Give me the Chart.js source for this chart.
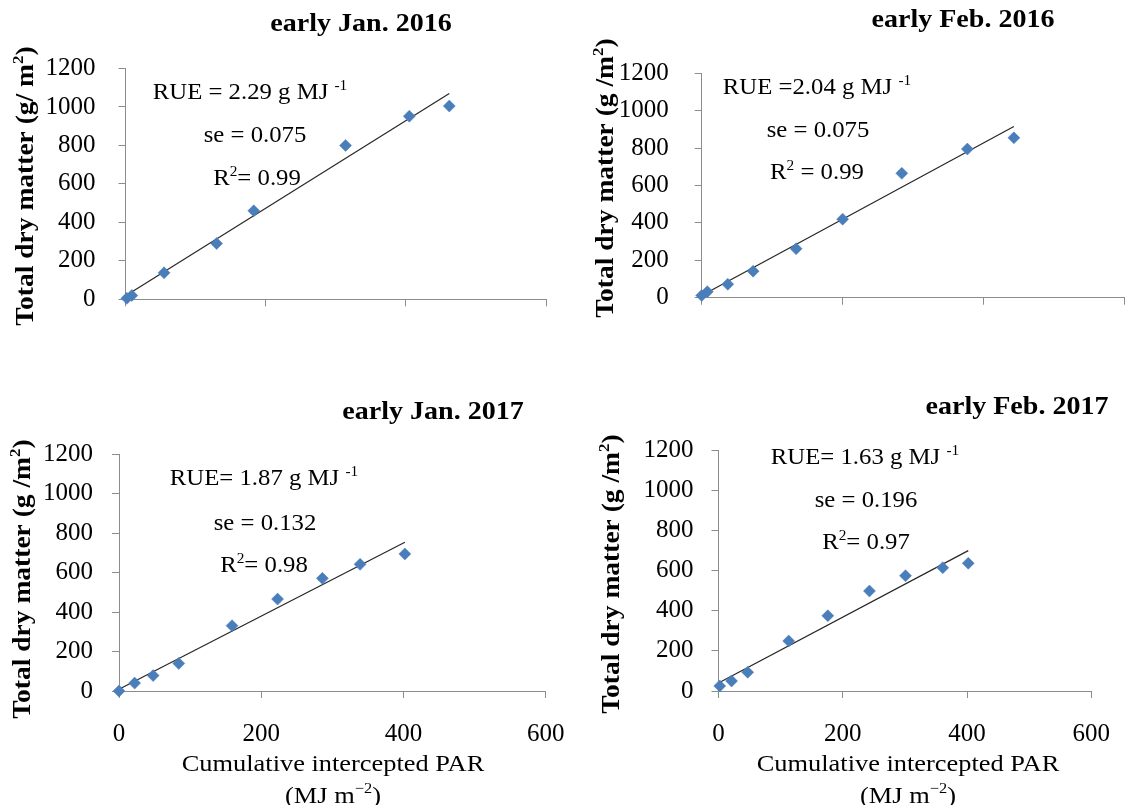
<!DOCTYPE html>
<html>
<head>
<meta charset="utf-8">
<script src="https://cdn.jsdelivr.net/npm/chart.js@4.4.0/dist/chart.umd.min.js"></script>
<style>
html,body{margin:0;padding:0;background:#fff;}
#wrap{position:relative;width:1131px;height:805px;overflow:hidden;}
#wrap canvas{position:absolute;left:0;top:0;}
</style>
</head>
<body>
<div id="wrap">
<canvas id="c0" width="1131" height="805"></canvas>
<canvas id="c1" width="1131" height="805"></canvas>
<canvas id="c2" width="1131" height="805"></canvas>
<canvas id="c3" width="1131" height="805"></canvas>
</div>
<script>
// ---------------- data ----------------
const panelTitles = ['early Jan. 2016', 'early Feb. 2016', 'early Jan. 2017', 'early Feb. 2017'];
const yAxisTitles = ['Total dry matter (g/ m', 'Total dry matter (g /m', 'Total dry matter (g /m', 'Total dry matter (g /m'];
const xTickValues = [0, 200, 400, 600];
const yTickValues = [0, 200, 400, 600, 800, 1000, 1200];

// early Jan. 2016
const parJan16 = [2, 9, 55, 130, 183, 314, 405, 462];
const tdmJan16 = [5, 20, 138, 290, 460, 800, 952, 1005];
const fitXJan16 = [2, 462];
const fitYJan16 = [22, 1070];
// early Feb. 2016
const parFeb16 = [0, 8, 37, 73, 134, 200, 284, 377, 443];
const tdmFeb16 = [12, 32, 72, 142, 262, 420, 665, 795, 855];
const fitXFeb16 = [0, 443];
const fitYFeb16 = [12, 915];
// early Jan. 2017
const parJan17 = [0, 22, 48, 84, 159, 223, 286, 339, 402];
const tdmJan17 = [0, 40, 78, 140, 331, 466, 571, 642, 695];
const fitXJan17 = [0, 402];
const fitYJan17 = [9, 754];
// early Feb. 2017
const parFeb17 = [2, 21, 47, 113, 176, 243, 301, 361, 402];
const tdmFeb17 = [25, 50, 93, 249, 375, 498, 574, 614, 636];
const fitXFeb17 = [0, 402];
const fitYFeb17 = [40, 699];

const statRUE = ['2.29', '2.04', '1.87', '1.63'];
const statSE = ['0.075', '0.075', '0.132', '0.196'];
const statR2 = ['0.99', '0.99', '0.98', '0.97'];

// ---------------- layout (pixels) ----------------
const W = 1131, H = 805;
const FONT = '"Liberation Serif", "Times New Roman", serif';
const SX = 1.1; // horizontal text stretch seen in the reference
const panels = [
  {L:125.5, R:546, T:68.5, B:299.3, xLabels:false, yPad:23,
   title:[361,23], ytitle:[25,186], ann:[[250,92],[255,135],[257,178]],
   rueSep:' = ', seSep:'= ', r2Sep:'= '},
  {L:701.7, R:1128.6, T:73.3, B:297.7, xLabels:false, yPad:26,
   title:[963,19], ytitle:[605,178], ann:[[817,87],[818,130],[817,172]],
   rueSep:' =', seSep:'= ', r2Sep:' = '},
  {L:119, R:545.7, T:454.3, B:691, xLabels:true, yPad:19,
   title:[433,411], ytitle:[22,579], ann:[[264,478],[265,523],[264,565]],
   rueSep:'= ', seSep:'= ', r2Sep:'= ', xtitle:[[333,763],[333,795]]},
  {L:718.5, R:1097.3, T:450, B:691, xLabels:true, yPad:18,
   title:[1017,406], ytitle:[611,574], ann:[[865,457],[866,500],[866,542]],
   rueSep:'= ', seSep:'= ', r2Sep:'= ', xtitle:[[908,763],[908,795]]}
];

const series = [
  {x:parJan16, y:tdmJan16, fx:fitXJan16, fy:fitYJan16},
  {x:parFeb16, y:tdmFeb16, fx:fitXFeb16, fy:fitYFeb16},
  {x:parJan17, y:tdmJan17, fx:fitXJan17, fy:fitYJan17},
  {x:parFeb17, y:tdmFeb17, fx:fitXFeb17, fy:fitYFeb17}
];

function rich(ctx, segs, cx, cy, size, bold) {
  const base = (bold ? 'bold ' : '');
  const supSize = size * 0.62;
  let total = 0;
  const ws = segs.map(s => {
    ctx.font = base + (s.sup ? supSize : size) + 'px ' + FONT;
    const w = ctx.measureText(s.t).width;
    total += w;
    return w;
  });
  ctx.save();
  ctx.translate(cx, cy);
  ctx.scale(SX, 1);
  let x = -total / 2;
  const baseline = size * 0.33;
  ctx.textAlign = 'left';
  ctx.textBaseline = 'alphabetic';
  ctx.fillStyle = '#000';
  segs.forEach((s, i) => {
    ctx.font = base + (s.sup ? supSize : size) + 'px ' + FONT;
    ctx.fillText(s.t, x, s.sup ? baseline - size * 0.42 : baseline);
    x += ws[i];
  });
  ctx.restore();
}

function makeTextPlugin(i) {
  const p = panels[i];
  return {
    id: 'texts' + i,
    afterDraw(chart) {
      const ctx = chart.ctx;
      ctx.save();
      rich(ctx, [{t: panelTitles[i]}], p.title[0], p.title[1], 25.5, true);
      ctx.save();
      ctx.translate(p.ytitle[0], p.ytitle[1]);
      ctx.rotate(-Math.PI / 2);
      rich(ctx, [{t: yAxisTitles[i]}, {t: '2', sup: true}, {t: ')'}], 0, 0, 25, true);
      ctx.restore();
      rich(ctx, [{t: 'RUE' + p.rueSep + statRUE[i] + ' g MJ '}, {t: '-1', sup: true}], p.ann[0][0], p.ann[0][1], 22.5, false);
      rich(ctx, [{t: 'se ' + p.seSep + statSE[i]}], p.ann[1][0], p.ann[1][1], 22.5, false);
      rich(ctx, [{t: 'R'}, {t: '2', sup: true}, {t: p.r2Sep + statR2[i]}], p.ann[2][0], p.ann[2][1], 22.5, false);
      if (p.xtitle) {
        rich(ctx, [{t: 'Cumulative intercepted PAR'}], p.xtitle[0][0], p.xtitle[0][1], 24, false);
        rich(ctx, [{t: '(MJ m'}, {t: '\u22122', sup: true}, {t: ')'}], p.xtitle[1][0], p.xtitle[1][1], 24, false);
      }
      ctx.restore();
    }
  };
}

panels.forEach((p, i) => {
  const s = series[i];
  const pts = s.x.map((v, k) => ({x: v, y: s.y[k]}));
  const fit = s.fx.map((v, k) => ({x: v, y: s.fy[k]}));
  new Chart(document.getElementById('c' + i), {
    type: 'scatter',
    data: {
      datasets: [
        {data: fit, showLine: true, borderColor: '#262626', borderWidth: 1.2, pointRadius: 0, clip: false, order: 2},
        {data: pts, showLine: false, pointStyle: 'rectRot', pointRadius: 6, backgroundColor: '#4A7EBB', borderColor: '#4A7EBB', borderWidth: 0.5, clip: false, order: 1}
      ]
    },
    options: {
      responsive: false,
      animation: false,
      devicePixelRatio: 1,
      events: [],
      layout: {padding: {left: 0, right: W - p.R, top: p.T, bottom: 0}},
      plugins: {legend: {display: false}, tooltip: {enabled: false}, title: {display: false}},
      scales: {
        x: {
          type: 'linear', min: 0, max: 600,
          afterBuildTicks: sc => { sc.ticks = xTickValues.map(v => ({value: v})); },
          afterFit: sc => { sc.height = H - p.B; },
          ticks: {display: p.xLabels, color: '#000', font: {family: FONT, size: 25}, padding: 21, maxRotation: 0, autoSkip: false,
                  callback: v => String(v)},
          grid: {display: true, drawOnChartArea: false, drawTicks: true, tickLength: 7, color: '#8c8c8c', lineWidth: 1},
          border: {display: true, color: '#8c8c8c', width: 1}
        },
        y: {
          type: 'linear', min: 0, max: 1200,
          afterBuildTicks: sc => { sc.ticks = yTickValues.map(v => ({value: v})); },
          afterFit: sc => { sc.width = p.L; },
          ticks: {color: '#000', font: {family: FONT, size: 25}, padding: p.yPad, autoSkip: false,
                  callback: v => String(v)},
          grid: {display: true, drawOnChartArea: false, drawTicks: true, tickLength: 7, color: '#8c8c8c', lineWidth: 1},
          border: {display: true, color: '#8c8c8c', width: 1}
        }
      }
    },
    plugins: [makeTextPlugin(i)]
  });
});
</script>
</body>
</html>
